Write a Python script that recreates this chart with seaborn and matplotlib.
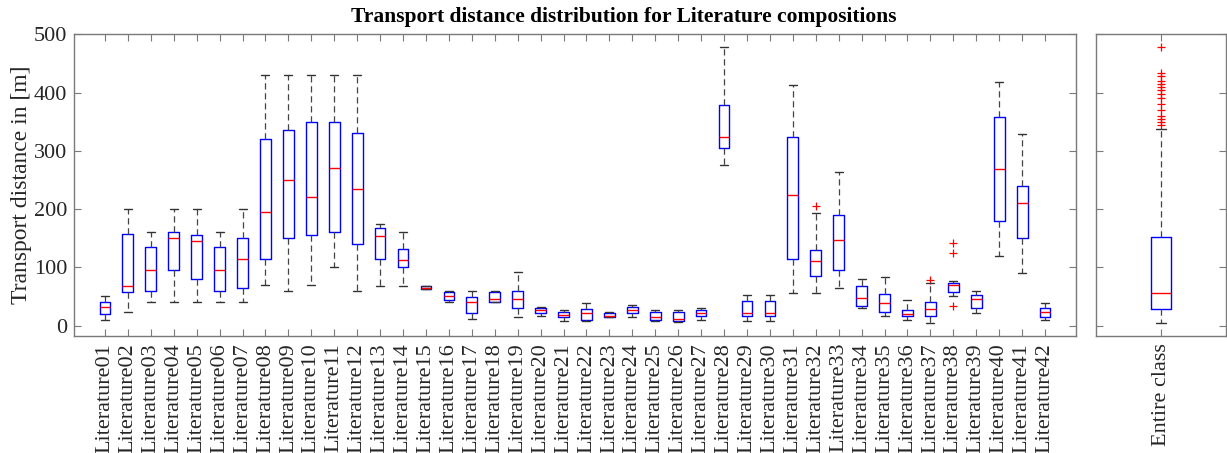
import numpy as np
import pandas as pd
import matplotlib
matplotlib.use("Agg")
import matplotlib.pyplot as plt
import seaborn as sns

categories = [
    "Literature01", "Literature02", "Literature03", "Literature04", "Literature05", "Literature06",
    "Literature07", "Literature08", "Literature09", "Literature10", "Literature11", "Literature12",
    "Literature13", "Literature14", "Literature15", "Literature16", "Literature17", "Literature18",
    "Literature19", "Literature20", "Literature21", "Literature22", "Literature23", "Literature24",
    "Literature25", "Literature26", "Literature27", "Literature28", "Literature29", "Literature30",
    "Literature31", "Literature32", "Literature33", "Literature34", "Literature35", "Literature36",
    "Literature37", "Literature38", "Literature39", "Literature40", "Literature41", "Literature42",
]
whisker_low = [10, 23, 40, 40, 40, 40, 40, 70, 60, 70, 100, 60, 67, 67, 62, 40, 11, 40, 15, 16, 7,
               8, 14, 15, 7, 6, 9, 275, 7, 7, 55, 55, 65, 30, 16, 9, 5, 50, 21, 120, 90, 10]
q1 = [19, 57, 60, 95, 80, 60, 65, 115, 150, 155, 160, 140, 115, 101, 62, 43, 22, 41, 30, 21, 14,
      10, 14, 22, 9, 7, 16, 305, 16, 16, 115, 85, 95, 33, 24, 16, 17, 58, 30, 180, 150, 14]
median = [31, 68, 95, 150, 145, 95, 115, 195, 250, 220, 270, 235, 154, 112, 65, 51, 40, 45, 45, 26, 18,
          22, 17, 26, 15, 12, 22, 323, 22, 22, 224, 110, 147, 47, 38, 20, 28, 69, 45, 269, 210, 24]
q3 = [41, 157, 135, 160, 155, 135, 150, 320, 335, 350, 350, 330, 167, 132, 67, 58, 49, 57, 59, 30, 23,
      28, 22, 31, 24, 24, 26, 379, 42, 42, 323, 129, 189, 68, 54, 27, 41, 73, 52, 358, 239, 30]
whisker_high = [51, 200, 160, 200, 200, 160, 200, 430, 430, 430, 430, 430, 175, 160, 68, 60, 60, 60, 92,
                32, 27, 39, 24, 36, 27, 27, 30, 478, 53, 53, 413, 194, 263, 80, 83, 43, 73, 76, 60,
                418, 329, 39]
outlier_cats = ["Literature32", "Literature37", "Literature38", "Literature38", "Literature38"]
outlier_vals = [205, 79, 141, 124, 34]

entire_label = ["Entire class"]
entire_stats = [5, 28, 56, 152, 338]  # low whisker, q1, median, q3, high whisker
entire_outliers = [478, 433, 428, 420, 415, 410, 405, 398, 390, 380, 370, 360, 355, 350, 344]

# long-form tables whose quartiles reproduce the five-number summaries
rows = []
for c, a, b, m, d, e in zip(categories, whisker_low, q1, median, q3, whisker_high):
    for v in (a, b, m, d, e):
        rows.append((c, v))
df = pd.DataFrame(rows, columns=["category", "value"])
df_all = pd.DataFrame({"category": entire_label * len(entire_stats), "value": entire_stats})

sns.set_style("white")
plt.rcParams["font.family"] = ["Liberation Serif", "DejaVu Serif"]
plt.rcParams["axes.edgecolor"] = "#7a7a7a"
plt.rcParams["xtick.color"] = "#7a7a7a"
plt.rcParams["ytick.color"] = "#7a7a7a"
plt.rcParams["xtick.labelcolor"] = "#262626"
plt.rcParams["ytick.labelcolor"] = "#262626"

W, H = 1227, 453
fig = plt.figure(figsize=(W / 100, H / 100), dpi=100)
ax = fig.add_axes([74 / W, 1 - 336 / H, (1076 - 74) / W, (336 - 34.3) / H])
ax2 = fig.add_axes([1096 / W, 1 - 336 / H, (1226 - 1096) / W, (336 - 34.3) / H])

common = dict(
    whis=(0, 100), fill=False, color="blue", linewidth=1.0, showfliers=False,
    medianprops=dict(color="red", linewidth=1.0),
    whiskerprops=dict(color="#444444", linestyle=(0, (5, 3)), linewidth=0.9),
    capprops=dict(color="#333333", linewidth=1.0),
    boxprops=dict(color="blue", linewidth=1.0),
)
sns.boxplot(data=df, x="category", y="value", order=categories, width=0.47, ax=ax,
            capwidths=0.35, **common)
out_pos = [categories.index(c) for c in outlier_cats]
sns.scatterplot(x=out_pos, y=outlier_vals, marker="+", color="red", s=40, linewidth=0.9, ax=ax)

sns.boxplot(data=df_all, x="category", y="value", order=entire_label, width=0.16, ax=ax2,
            capwidths=0.08, **common)
sns.scatterplot(x=[0] * len(entire_outliers), y=entire_outliers, marker="+", color="red",
                s=40, linewidth=0.9, ax=ax2)

for a in (ax, ax2):
    a.set_ylim(-18, 500)
    a.set_yticks([0, 100, 200, 300, 400, 500])
    a.tick_params(axis="both", direction="in", length=5, width=0.8, top=True, right=True,
                  bottom=True, left=True, labelsize=16, pad=5)
    a.tick_params(axis="x", labelrotation=90)
    a.set_xlabel("")
    for s in a.spines.values():
        s.set_visible(True)
        s.set_linewidth(1.0)
        s.set_color("#7a7a7a")

ax.set_xlim(-1.35, len(categories) - 1 + 1.35)
ax.set_xticks(range(len(categories)))
ax.set_xticklabels(categories)
ax.set_ylabel("Transport distance in [m]", fontsize=17, color="#262626", labelpad=1)
ax.tick_params(axis="y", labelsize=16)

ax2.set_xlim(-0.5, 0.5)
ax2.set_xticks([0])
ax2.set_xticklabels(entire_label)
ax2.set_ylabel("")
ax2.tick_params(axis="y", labelleft=False)

fig.text(624 / W, 1 - 17 / H, "Transport distance distribution for Literature compositions",
         ha="center", va="center", fontsize=15.5, fontweight="bold", color="black")

fig.savefig("out.png", dpi=100)
